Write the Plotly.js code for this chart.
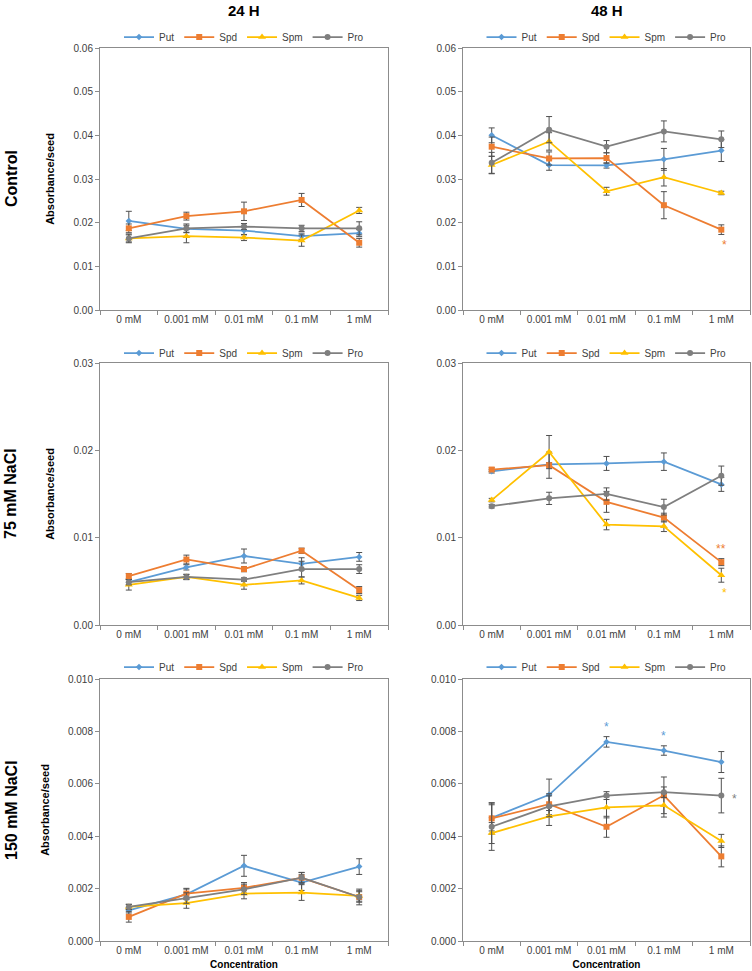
<!DOCTYPE html>
<html><head><meta charset="utf-8">
<script src="https://cdn.plot.ly/plotly-3.0.1.min.js"></script>
<style>html,body{margin:0;padding:0;background:#fff}#chart{width:752px;height:971px}</style>
</head><body><div id="chart"></div>
<script>
// ---------- DATA ----------
const categories = ['0 mM', '0.001 mM', '0.01 mM', '0.1 mM', '1 mM'];
const seriesNames = ['Put', 'Spd', 'Spm', 'Pro'];
const columnTitles = ['24 H', '48 H'];
const rowTitles = ['Control', '75 mM NaCl', '150 mM NaCl'];

// Control, 24 H
const put_c24 = [0.0204, 0.0186, 0.0182, 0.0169, 0.0176];
const spd_c24 = [0.0187, 0.0215, 0.0226, 0.0252, 0.0154];
const spm_c24 = [0.0164, 0.0169, 0.0166, 0.0159, 0.0228];
const pro_c24 = [0.0164, 0.0187, 0.0191, 0.0187, 0.0187];
const put_c24_err = [0.0022, 0.0008, 0.0010, 0.0007, 0.0008];
const spd_c24_err = [0.0010, 0.0009, 0.0021, 0.0015, 0.0010];
const spm_c24_err = [0.0008, 0.0015, 0.0007, 0.0013, 0.0007];
const pro_c24_err = [0.0010, 0.0010, 0.0007, 0.0007, 0.0015];

// Control, 48 H
const put_c48 = [0.0400, 0.0332, 0.0331, 0.0345, 0.0365];
const spd_c48 = [0.0374, 0.0347, 0.0348, 0.0240, 0.0184];
const spm_c48 = [0.0332, 0.0386, 0.0272, 0.0304, 0.0268];
const pro_c48 = [0.0337, 0.0413, 0.0374, 0.0409, 0.0391];
const put_c48_err = [0.0017, 0.0012, 0.0006, 0.0025, 0.0025];
const spd_c48_err = [0.0022, 0.0015, 0.0012, 0.0031, 0.0011];
const spm_c48_err = [0.0020, 0.0020, 0.0009, 0.0020, 0.0004];
const pro_c48_err = [0.0024, 0.0030, 0.0014, 0.0024, 0.0019];

// 75 mM NaCl, 24 H
const put_n75_24 = [0.0049, 0.0066, 0.0079, 0.0070, 0.0078];
const spd_n75_24 = [0.0056, 0.0075, 0.0064, 0.0085, 0.0040];
const spm_n75_24 = [0.0046, 0.0055, 0.0046, 0.0051, 0.0031];
const pro_n75_24 = [0.0049, 0.0055, 0.0052, 0.0064, 0.0064];
const put_n75_24_err = [0.0003, 0.0003, 0.0008, 0.0007, 0.0005];
const spd_n75_24_err = [0.0003, 0.0005, 0.0003, 0.0003, 0.0004];
const spm_n75_24_err = [0.0006, 0.0003, 0.0005, 0.0004, 0.0003];
const pro_n75_24_err = [0.0003, 0.0003, 0.0002, 0.0009, 0.0005];

// 75 mM NaCl, 48 H
const put_n75_48 = [0.0176, 0.0184, 0.0185, 0.0187, 0.0161];
const spd_n75_48 = [0.0178, 0.0183, 0.0141, 0.0123, 0.0072];
const spm_n75_48 = [0.0143, 0.0198, 0.0115, 0.0113, 0.0057];
const pro_n75_48 = [0.0136, 0.0145, 0.0150, 0.0135, 0.0171];
const put_n75_48_err = [0.0002, 0.0002, 0.0008, 0.0010, 0.0008];
const spd_n75_48_err = [0.0002, 0.0015, 0.0012, 0.0005, 0.0004];
const spm_n75_48_err = [0.0002, 0.0019, 0.0006, 0.0006, 0.0008];
const pro_n75_48_err = [0.0002, 0.0007, 0.0007, 0.0009, 0.0011];

// 150 mM NaCl, 24 H
const put_n150_24 = [0.00117, 0.00178, 0.00287, 0.00223, 0.00284];
const spd_n150_24 = [0.00092, 0.00181, 0.00203, 0.00241, 0.00168];
const spm_n150_24 = [0.00130, 0.00145, 0.00181, 0.00185, 0.00172];
const pro_n150_24 = [0.00130, 0.00164, 0.00197, 0.00242, 0.00168];
const put_n150_24_err = [0.0001, 0.0002, 0.0004, 0.0003, 0.0003];
const spd_n150_24_err = [0.0002, 0.0002, 0.0002, 0.0002, 0.0002];
const spm_n150_24_err = [0.0001, 0.0002, 0.0002, 0.0003, 0.0002];
const pro_n150_24_err = [0.0001, 0.0002, 0.0002, 0.0002, 0.0003];

// 150 mM NaCl, 48 H
const put_n150_48 = [0.00470, 0.00558, 0.00760, 0.00727, 0.00683];
const spd_n150_48 = [0.00468, 0.00522, 0.00436, 0.00556, 0.00323];
const spm_n150_48 = [0.00412, 0.00476, 0.00510, 0.00518, 0.00382];
const pro_n150_48 = [0.00436, 0.00514, 0.00555, 0.00568, 0.00555];
const put_n150_48_err = [0.0005, 0.0006, 0.0002, 0.00018, 0.0004];
const spd_n150_48_err = [0.0006, 0.0004, 0.0004, 0.0007, 0.0004];
const spm_n150_48_err = [0.0004, 0.00035, 0.0004, 0.00045, 0.00025];
const pro_n150_48_err = [0.0009, 0.0004, 0.00015, 0.0002, 0.00066];

// y-axis ranges per row
const rowYMax = [0.06, 0.03, 0.010];
const rowYStep = [0.01, 0.01, 0.002];
const rowYFormat = ['.2f', '.2f', '.3f'];

// significance marks: panel, series index, category index, label, placement
const sigPanel = [1, 3, 3, 5, 5, 5];
const sigSeries = [1, 1, 2, 0, 0, 3];
const sigCategory = [4, 4, 4, 2, 3, 4];
const sigLabel = ['*', '**', '*', '*', '*', '*'];
const sigPlace = ['below', 'above', 'below', 'above', 'above', 'right'];

// ---------- STYLE / LAYOUT ----------
const W = 752, H = 971;
const colors = ['#5B9BD5', '#ED7D31', '#FFC000', '#7F7F7F'];
const symbols = ['diamond', 'square', 'triangle-up', 'circle'];
const msize = [5, 6, 7, 6];
const FONT = 'Arial, "Liberation Sans", sans-serif';

const panelValues = [
  [put_c24, spd_c24, spm_c24, pro_c24],
  [put_c48, spd_c48, spm_c48, pro_c48],
  [put_n75_24, spd_n75_24, spm_n75_24, pro_n75_24],
  [put_n75_48, spd_n75_48, spm_n75_48, pro_n75_48],
  [put_n150_24, spd_n150_24, spm_n150_24, pro_n150_24],
  [put_n150_48, spd_n150_48, spm_n150_48, pro_n150_48]
];
const panelErrors = [
  [put_c24_err, spd_c24_err, spm_c24_err, pro_c24_err],
  [put_c48_err, spd_c48_err, spm_c48_err, pro_c48_err],
  [put_n75_24_err, spd_n75_24_err, spm_n75_24_err, pro_n75_24_err],
  [put_n75_48_err, spd_n75_48_err, spm_n75_48_err, pro_n75_48_err],
  [put_n150_24_err, spd_n150_24_err, spm_n150_24_err, pro_n150_24_err],
  [put_n150_48_err, spd_n150_48_err, spm_n150_48_err, pro_n150_48_err]
];

// pixel geometry of plot areas
const colX = [[100, 388], [463, 750]];
const rowY = [[48, 310], [363, 625], [679, 941]];
const legendY = [37, 353, 667];
const px2x = p => p / W;
const px2y = p => 1 - p / H;

const traces = [];
const layout = {
  width: W, height: H,
  margin: {l: 0, r: 0, t: 0, b: 0},
  paper_bgcolor: '#fff', plot_bgcolor: '#fff',
  showlegend: true,
  font: {family: FONT, color: '#404040', size: 10},
  annotations: []
};

for (let p = 0; p < 6; p++) {
  const r = Math.floor(p / 2), c = p % 2;
  const n = p + 1;
  const xa = 'x' + (n === 1 ? '' : n), ya = 'y' + (n === 1 ? '' : n);
  const xk = 'xaxis' + (n === 1 ? '' : n), yk = 'yaxis' + (n === 1 ? '' : n);
  const lg = 'legend' + (n === 1 ? '' : n);

  for (let s = 0; s < 4; s++) {
    traces.push({
      type: 'scatter', mode: 'lines+markers',
      x: categories, y: panelValues[p][s],
      name: seriesNames[s], xaxis: xa, yaxis: ya, legend: lg,
      line: {color: colors[s], width: 1.75},
      marker: {color: colors[s], symbol: symbols[s], size: msize[s]},
      error_y: {type: 'data', array: panelErrors[p][s], visible: true,
                color: '#505050', thickness: 1, width: 3},
      hoverinfo: 'skip'
    });
  }

  layout[xk] = {
    domain: [px2x(colX[c][0]), px2x(colX[c][1])], anchor: ya,
    type: 'category', categoryorder: 'array', categoryarray: categories,
    range: [-0.5, 4.5],
    showline: true, mirror: true, linecolor: '#8c8c8c', linewidth: 1,
    ticks: 'outside', tickson: 'boundaries', ticklen: 4, tickcolor: '#8c8c8c',
    showgrid: false, zeroline: false, fixedrange: true,
    tickfont: {family: FONT, size: 10, color: '#404040'},
    title: r === 2 ? {text: '<b>Concentration</b>', font: {family: FONT, size: 10, color: '#000'}, standoff: 5} : {text: ''}
  };
  layout[yk] = {
    domain: [px2y(rowY[r][1]), px2y(rowY[r][0])], anchor: xa,
    range: [0, rowYMax[r]], dtick: rowYStep[r], tick0: 0, tickformat: rowYFormat[r],
    showline: true, mirror: true, linecolor: '#8c8c8c', linewidth: 1,
    ticks: 'outside', ticklen: 4, tickcolor: '#8c8c8c',
    showgrid: false, zeroline: false, fixedrange: true,
    tickfont: {family: FONT, size: 10, color: '#404040'},
    title: c === 0 ? {text: '<b>Absorbance/seed</b>', font: {family: FONT, size: 11, color: '#000'}, standoff: 16} : {text: ''}
  };
  layout[lg] = {
    orientation: 'h', x: (px2x(colX[c][0]) + px2x(colX[c][1])) / 2, xanchor: 'center',
    y: px2y(legendY[r]), yanchor: 'middle',
    font: {family: FONT, size: 10, color: '#404040'},
    bgcolor: 'rgba(0,0,0,0)', traceorder: 'normal', itemclick: false, itemdoubleclick: false
  };
}

// column titles
for (let c = 0; c < 2; c++) {
  layout.annotations.push({
    xref: 'paper', yref: 'paper', x: (px2x(colX[c][0]) + px2x(colX[c][1])) / 2, y: px2y(10),
    xanchor: 'center', yanchor: 'middle', showarrow: false,
    text: '<b>' + columnTitles[c] + '</b>', font: {family: FONT, size: 15, color: '#000'}
  });
}
// row titles
for (let r = 0; r < 3; r++) {
  layout.annotations.push({
    xref: 'paper', yref: 'paper', x: px2x(11), y: (px2y(rowY[r][0]) + px2y(rowY[r][1])) / 2,
    xanchor: 'center', yanchor: 'middle', showarrow: false, textangle: -90,
    text: '<b>' + rowTitles[r] + '</b>', font: {family: FONT, size: 16, color: '#000'}
  });
}
// significance asterisks (positioned from the data point and its error bar)
for (let k = 0; k < sigPanel.length; k++) {
  const p = sigPanel[k], s = sigSeries[k], i = sigCategory[k];
  const n = p + 1;
  const v = panelValues[p][s][i], e = panelErrors[p][s][i];
  let y = v, yshift = -4, xshift = 0;
  if (sigPlace[k] === 'below') { y = v - e; yshift = -11; xshift = 3; }
  if (sigPlace[k] === 'above') { y = v + e; yshift = 10; }
  if (sigPlace[k] === 'right') { y = v; yshift = -3; xshift = 13; }
  layout.annotations.push({
    xref: 'x' + (n === 1 ? '' : n), yref: 'y' + (n === 1 ? '' : n),
    x: categories[i], y: y, xshift: xshift, yshift: yshift,
    xanchor: 'center', yanchor: 'middle', showarrow: false,
    text: sigLabel[k], font: {family: FONT, size: 12, color: colors[s]}
  });
}

Plotly.newPlot('chart', traces, layout, {staticPlot: true, displayModeBar: false});
</script>
</body></html>
